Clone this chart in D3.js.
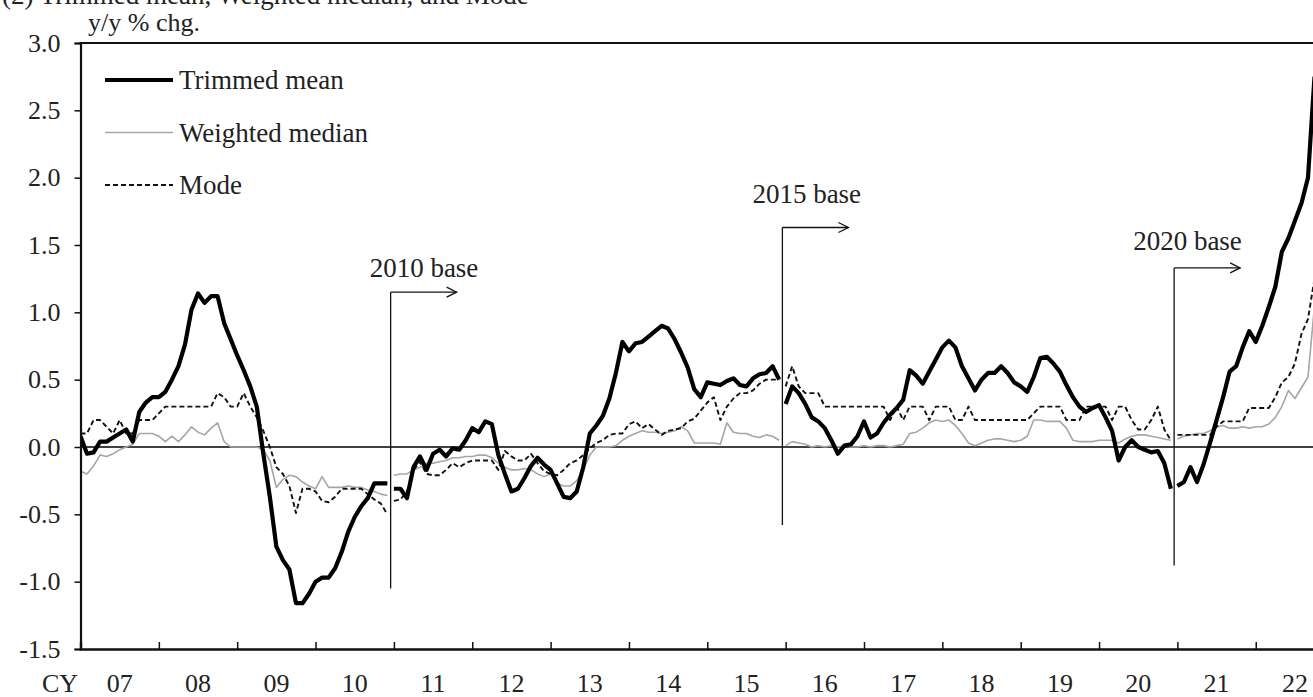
<!DOCTYPE html>
<html>
<head>
<meta charset="utf-8">
<script src="https://cdn.jsdelivr.net/npm/d3@7"></script>
<style>
  html, body { margin: 0; padding: 0; background: #fff; overflow: hidden; }
  svg { display: block; font-family: "Liberation Serif", "Times New Roman", serif; }
</style>
</head>
<body>
<svg id="chart" width="1313" height="697"></svg>
<script>
// Core CPI measures, y/y % change, monthly from Jan 2007.
const startYear = 2007;

const yearLabels = ["07","08","09","10","11","12","13","14","15","16","17","18","19","20","21","22"];
const yTickValues = [-1.5, -1.0, -0.5, 0.0, 0.5, 1.0, 1.5, 2.0, 2.5, 3.0];

const trimmedMean = [
  0.08, -0.05, -0.04, 0.04, 0.04, 0.07, 0.10, 0.13, 0.04, 0.26, 0.33, 0.37,   // 2007
  0.37, 0.41, 0.50, 0.60, 0.76, 1.02, 1.14, 1.07, 1.12, 1.12, 0.92, 0.80,     // 2008
  0.68, 0.57, 0.45, 0.30, -0.05, -0.37, -0.74, -0.84, -0.91, -1.16, -1.16, -1.09, // 2009
  -1.00, -0.97, -0.97, -0.90, -0.78, -0.63, -0.52, -0.44, -0.38, -0.27, -0.27, -0.27, // 2010
  -0.31, -0.31, -0.38, -0.15, -0.07, -0.17, -0.05, -0.02, -0.07, -0.01, -0.02, 0.05, // 2011
  0.14, 0.11, 0.19, 0.17, -0.06, -0.20, -0.33, -0.31, -0.23, -0.14, -0.08, -0.13,  // 2012
  -0.17, -0.27, -0.37, -0.38, -0.33, -0.15, 0.10, 0.16, 0.23, 0.36, 0.55, 0.78,   // 2013
  0.71, 0.77, 0.78, 0.82, 0.86, 0.90, 0.88, 0.80, 0.70, 0.59, 0.43, 0.37,     // 2014
  0.48, 0.47, 0.46, 0.49, 0.51, 0.46, 0.45, 0.51, 0.54, 0.55, 0.60, 0.50,     // 2015
  0.32, 0.45, 0.40, 0.32, 0.22, 0.19, 0.14, 0.05, -0.05, 0.01, 0.02, 0.08,    // 2016
  0.19, 0.07, 0.10, 0.18, 0.24, 0.29, 0.35, 0.57, 0.53, 0.47, 0.56, 0.65,     // 2017
  0.74, 0.79, 0.74, 0.60, 0.51, 0.42, 0.50, 0.55, 0.55, 0.60, 0.55, 0.48,     // 2018
  0.45, 0.41, 0.52, 0.66, 0.67, 0.62, 0.56, 0.46, 0.37, 0.30, 0.26, 0.29,     // 2019
  0.31, 0.22, 0.12, -0.10, 0.00, 0.05, 0.00, -0.02, -0.04, -0.03, -0.12, -0.31, // 2020
  -0.29, -0.26, -0.15, -0.26, -0.13, 0.03, 0.20, 0.37, 0.56, 0.60, 0.74, 0.86, // 2021
  0.78, 0.90, 1.04, 1.19, 1.45, 1.55, 1.68, 1.81, 2.00, 2.75                  // 2022
];

const weightedMedian = [
  -0.18, -0.20, -0.14, -0.06, -0.07, -0.05, -0.02, 0.00, 0.02, 0.10, 0.10, 0.10, // 2007
  0.08, 0.04, 0.08, 0.04, 0.09, 0.15, 0.11, 0.09, 0.14, 0.18, 0.04, 0.00,     // 2008
  0.00, 0.00, 0.00, 0.00, -0.02, -0.10, -0.30, -0.24, -0.21, -0.22, -0.26, -0.29, // 2009
  -0.31, -0.22, -0.30, -0.30, -0.30, -0.29, -0.30, -0.30, -0.32, -0.33, -0.35, -0.36, // 2010
  -0.21, -0.20, -0.20, -0.17, -0.15, -0.12, -0.12, -0.11, -0.10, -0.08, -0.08, -0.07, // 2011
  -0.07, -0.06, -0.06, -0.08, -0.12, -0.15, -0.17, -0.17, -0.16, -0.17, -0.20, -0.22, // 2012
  -0.20, -0.27, -0.29, -0.29, -0.25, -0.17, -0.06, 0.00, 0.00, 0.00, 0.01, 0.05, // 2013
  0.08, 0.10, 0.12, 0.11, 0.11, 0.10, 0.11, 0.12, 0.15, 0.12, 0.03, 0.03,     // 2014
  0.03, 0.03, 0.02, 0.18, 0.11, 0.10, 0.10, 0.08, 0.07, 0.09, 0.08, 0.05,     // 2015
  0.01, 0.04, 0.03, 0.02, 0.00, 0.01, 0.00, 0.01, 0.00, 0.01, 0.00, 0.00,     // 2016
  0.01, 0.00, 0.01, 0.01, 0.00, 0.01, 0.02, 0.10, 0.11, 0.14, 0.18, 0.20,     // 2017
  0.19, 0.20, 0.16, 0.10, 0.03, 0.01, 0.03, 0.05, 0.06, 0.06, 0.05, 0.04,     // 2018
  0.05, 0.08, 0.20, 0.20, 0.19, 0.19, 0.19, 0.14, 0.05, 0.04, 0.04, 0.04,     // 2019
  0.05, 0.05, 0.05, 0.03, 0.06, 0.08, 0.09, 0.09, 0.08, 0.07, 0.06, 0.05,     // 2020
  0.06, 0.08, 0.09, 0.10, 0.10, 0.12, 0.15, 0.16, 0.14, 0.14, 0.15, 0.14,     // 2021
  0.15, 0.15, 0.17, 0.22, 0.30, 0.42, 0.36, 0.44, 0.52, 1.05                  // 2022
];

const mode = [
  0.10, 0.10, 0.20, 0.20, 0.15, 0.10, 0.20, 0.10, 0.10, 0.20, 0.20, 0.20,     // 2007
  0.25, 0.30, 0.30, 0.30, 0.30, 0.30, 0.30, 0.30, 0.30, 0.40, 0.37, 0.30,     // 2008
  0.30, 0.40, 0.30, 0.22, 0.12, 0.00, -0.15, -0.20, -0.29, -0.49, -0.31, -0.31, // 2009
  -0.33, -0.40, -0.41, -0.37, -0.31, -0.31, -0.31, -0.31, -0.35, -0.39, -0.42, -0.50, // 2010
  -0.40, -0.39, -0.33, -0.17, -0.11, -0.20, -0.21, -0.21, -0.17, -0.12, -0.15, -0.12, // 2011
  -0.10, -0.10, -0.10, -0.10, -0.17, -0.03, -0.07, -0.10, -0.10, -0.05, -0.12, -0.18, // 2012
  -0.20, -0.21, -0.17, -0.12, -0.10, -0.06, -0.01, 0.03, 0.05, 0.09, 0.10, 0.10, // 2013
  0.17, 0.19, 0.14, 0.17, 0.13, 0.09, 0.12, 0.13, 0.14, 0.19, 0.21, 0.27,     // 2014
  0.33, 0.37, 0.20, 0.30, 0.36, 0.40, 0.40, 0.42, 0.47, 0.50, 0.50, 0.50,     // 2015
  0.45, 0.60, 0.45, 0.40, 0.40, 0.40, 0.30, 0.30, 0.30, 0.30, 0.30, 0.30,     // 2016
  0.30, 0.30, 0.30, 0.30, 0.20, 0.30, 0.20, 0.30, 0.30, 0.30, 0.20, 0.30,     // 2017
  0.30, 0.30, 0.20, 0.20, 0.30, 0.20, 0.20, 0.20, 0.20, 0.20, 0.20, 0.20,     // 2018
  0.20, 0.20, 0.25, 0.30, 0.30, 0.30, 0.30, 0.20, 0.20, 0.20, 0.30, 0.30,     // 2019
  0.30, 0.30, 0.20, 0.30, 0.30, 0.20, 0.13, 0.13, 0.20, 0.30, 0.13, 0.05,     // 2020
  0.09, 0.09, 0.09, 0.09, 0.09, 0.09, 0.15, 0.19, 0.19, 0.19, 0.19, 0.29,     // 2021
  0.29, 0.29, 0.29, 0.37, 0.48, 0.52, 0.62, 0.84, 0.95, 1.25                  // 2022
];

// CPI base revisions: each new base series starts in January of `year`.
const baseRevisions = [
  { label: "2010 base", year: 2011 },
  { label: "2015 base", year: 2016 },
  { label: "2020 base", year: 2021 }
];

// Marker geometry for the base-revision annotations (data units / px offsets).
const markerStyle = [
  { top: 1.15, bottom: -1.05, dx: -21, dy: -15 },
  { top: 1.63, bottom: -0.58, dx: -30, dy: -24 },
  { top: 1.33, bottom: -0.88, dx: -41, dy: -18 }
];

const legendItems = [
  { name: "Trimmed mean", key: "tm" },
  { name: "Weighted median", key: "wm" },
  { name: "Mode", key: "mo" }
];

const styles = {
  tm: { stroke: "#000", width: 4.2, dash: null },
  wm: { stroke: "#a6a6a6", width: 1.6, dash: null },
  mo: { stroke: "#111", width: 1.9, dash: "5,3" }
};

const W = 1313, H = 697;
const plot = { left: 80.5, top: 43, bottom: 649 };
const yearWidth = 78.35;

const svg = d3.select("#chart");

const x = d3.scaleLinear()
  .domain([startYear, startYear + yearLabels.length])
  .range([plot.left, plot.left + yearWidth * yearLabels.length]);
const y = d3.scaleLinear().domain([-1.5, 3.0]).range([plot.bottom, plot.top]);

const monthTime = i => startYear + i / 12;

// Split a monthly series at each base revision.
function segments(values) {
  const cuts = baseRevisions.map(b => (b.year - startYear) * 12);
  const bounds = [0, ...cuts, values.length];
  const out = [];
  for (let s = 0; s < bounds.length - 1; s++) {
    const seg = [];
    for (let i = bounds[s]; i < Math.min(bounds[s + 1], values.length); i++) {
      seg.push({ t: monthTime(i), v: values[i] });
    }
    if (seg.length) out.push(seg);
  }
  return out;
}

svg.append("defs").append("clipPath").attr("id", "plotClip")
  .append("rect")
  .attr("x", plot.left).attr("y", 0)
  .attr("width", W - plot.left).attr("height", plot.bottom);

// Panel title (runs off the top edge)
svg.append("text")
  .attr("x", 2).attr("y", 4)
  .attr("font-size", 27).attr("fill", "#222")
  .text("(2) Trimmed mean, Weighted median, and Mode");

// Unit label
svg.append("text")
  .attr("x", 88).attr("y", 31)
  .attr("font-size", 26).attr("fill", "#222")
  .text("y/y % chg.");

// Zero line
svg.append("line")
  .attr("x1", plot.left).attr("x2", W)
  .attr("y1", y(0)).attr("y2", y(0))
  .attr("stroke", "#000").attr("stroke-width", 1.6);

// Base-revision markers
const markers = svg.append("g").attr("class", "base-markers");
baseRevisions.forEach((b, i) => {
  const m = markerStyle[i];
  const bx = x(b.year - 1 / 24);
  const ty = y(m.top);
  const arrowEnd = bx + 66;
  const g = markers.append("g").attr("stroke", "#111").attr("stroke-width", 1.3).attr("fill", "none");
  g.append("line").attr("x1", bx).attr("x2", bx).attr("y1", ty).attr("y2", y(m.bottom));
  g.append("line").attr("x1", bx).attr("x2", arrowEnd).attr("y1", ty).attr("y2", ty);
  g.append("path").attr("d", `M${arrowEnd - 10},${ty - 5}L${arrowEnd},${ty}L${arrowEnd - 10},${ty + 5}`);
  markers.append("text")
    .attr("x", bx + m.dx).attr("y", ty + m.dy)
    .attr("font-size", 27).attr("fill", "#222")
    .text(b.label);
});

// Series
const line = d3.line().x(d => x(d.t)).y(d => y(d.v));
const seriesOrder = [
  { key: "wm", values: weightedMedian },
  { key: "mo", values: mode },
  { key: "tm", values: trimmedMean }
];
const lines = svg.append("g").attr("clip-path", "url(#plotClip)");
seriesOrder.forEach(s => {
  const st = styles[s.key];
  segments(s.values).forEach(seg => {
    lines.append("path")
      .datum(seg)
      .attr("d", line)
      .attr("fill", "none")
      .attr("stroke", st.stroke)
      .attr("stroke-width", st.width)
      .attr("stroke-linejoin", "round")
      .attr("stroke-dasharray", st.dash);
  });
});

// Frame: top border, left axis, bottom axis
svg.append("line").attr("x1", plot.left - 1).attr("x2", W).attr("y1", plot.top).attr("y2", plot.top)
  .attr("stroke", "#111").attr("stroke-width", 2);

const yAxis = d3.axisLeft(y).tickValues(yTickValues).tickSize(6).tickPadding(14)
  .tickFormat(d => d.toFixed(1));
const gy = svg.append("g").attr("transform", `translate(${plot.left},0)`).call(yAxis);
gy.select(".domain").attr("stroke", "#111").attr("stroke-width", 2.2);
gy.selectAll(".tick line").attr("stroke", "#111").attr("stroke-width", 1.5);
gy.selectAll(".tick text").attr("font-size", 26).attr("fill", "#222")
  .attr("font-family", "Liberation Serif, Times New Roman, serif");

const yearBounds = d3.range(startYear + 1, startYear + yearLabels.length);
const xAxis = d3.axisBottom(x).tickValues(yearBounds).tickSize(-7).tickFormat("");
const gx = svg.append("g").attr("transform", `translate(0,${plot.bottom})`).call(xAxis);
gx.select(".domain").attr("stroke", "#111").attr("stroke-width", 2.4);
gx.selectAll(".tick line").attr("stroke", "#111").attr("stroke-width", 1.5);

// Year labels centred on each calendar year
svg.append("g").selectAll("text")
  .data(yearLabels)
  .join("text")
  .attr("x", (d, i) => x(startYear + i + 0.5))
  .attr("y", 692)
  .attr("text-anchor", "middle")
  .attr("font-size", 26).attr("fill", "#222")
  .text(d => d);
svg.append("text").attr("x", 42).attr("y", 692)
  .attr("font-size", 26).attr("fill", "#222").text("CY");

// Legend
const legend = svg.append("g");
legendItems.forEach((item, i) => {
  const ly = 80 + i * 52.5;
  const st = styles[item.key];
  legend.append("line")
    .attr("x1", 105).attr("x2", 173).attr("y1", ly).attr("y2", ly)
    .attr("stroke", st.stroke)
    .attr("stroke-width", item.key === "tm" ? 4 : st.width)
    .attr("stroke-dasharray", st.dash);
  legend.append("text")
    .attr("x", 179).attr("y", ly + 9)
    .attr("font-size", 27).attr("fill", "#222")
    .text(item.name);
});
</script>
</body>
</html>
